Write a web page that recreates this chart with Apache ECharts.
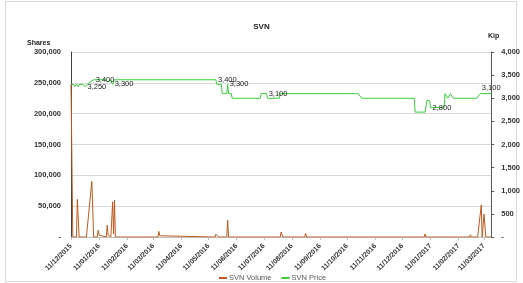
<!DOCTYPE html>
<html>
<head>
<meta charset="utf-8">
<script src="https://cdn.jsdelivr.net/npm/echarts@6/dist/echarts.min.js"></script>
<style>
  html, body { margin: 0; padding: 0; background: #ffffff; }
  #chart { width: 523px; height: 283px; }
</style>
</head>
<body>
<div id="chart"></div>
<script>
// axis span (calendar days, dd/mm/yyyy)
const startDate = '2015-12-11'
const endDate = '2017-03-19'

// SVN price (Kip) at the points where it changes
const priceDates = [
  '11/12/2015', '14/12/2015', '15/12/2015', '17/12/2015', '19/12/2015', '20/12/2015',
  '24/12/2015', '27/12/2015', '29/12/2015', '01/01/2016', '05/01/2016', '18/01/2016',
  '21/01/2016', '23/01/2016', '26/01/2016', '28/01/2016', '19/05/2016', '20/05/2016',
  '25/05/2016', '26/05/2016', '31/05/2016', '01/06/2016', '02/06/2016', '05/06/2016',
  '06/06/2016', '07/07/2016', '08/07/2016', '14/07/2016', '15/07/2016', '28/07/2016',
  '29/07/2016', '23/10/2016', '27/10/2016', '24/12/2016', '25/12/2016', '05/01/2017',
  '07/01/2017', '10/01/2017', '11/01/2017', '26/01/2017', '27/01/2017', '29/01/2017',
  '30/01/2017', '01/02/2017', '02/02/2017', '04/02/2017', '05/02/2017', '03/03/2017',
  '07/03/2017', '19/03/2017'
]
const priceValues = [
  3300, 3300, 3250, 3300, 3250, 3300,
  3300, 3250, 3300, 3350, 3400, 3400,
  3350, 3400, 3300, 3400, 3400, 3300,
  3300, 3100, 3100, 3300, 3100, 3100,
  3000, 3000, 3100, 3100, 3000, 3000,
  3100, 3100, 3000, 3000, 2700, 2700,
  2950, 2950, 2800, 2800, 3100, 3100,
  3000, 3000, 3100, 3100, 3000, 3000,
  3100, 3100
]
// points that carry a data label
const priceLabelDates = [
  '27/12/2015', '05/01/2016', '26/01/2016', '19/05/2016', '01/06/2016',
  '14/07/2016', '11/01/2017', '19/03/2017'
]

// SVN volume (shares)
const volumeDates = [
  '11/12/2015', '13/12/2015', '17/12/2015', '18/12/2015', '20/12/2015', '28/12/2015',
  '03/01/2016', '05/01/2016', '09/01/2016', '10/01/2016', '11/01/2016', '12/01/2016',
  '13/01/2016', '19/01/2016', '20/01/2016', '21/01/2016', '22/01/2016', '24/01/2016',
  '25/01/2016', '26/01/2016', '27/01/2016', '28/01/2016', '29/01/2016', '16/03/2016',
  '17/03/2016', '18/03/2016', '19/03/2016', '18/05/2016', '19/05/2016', '20/05/2016',
  '21/05/2016', '22/05/2016', '31/05/2016', '01/06/2016', '02/06/2016', '29/07/2016',
  '30/07/2016', '31/07/2016', '01/08/2016', '25/08/2016', '26/08/2016', '27/08/2016',
  '04/01/2017', '05/01/2017', '06/01/2017', '26/01/2017', '27/01/2017', '28/01/2017',
  '23/02/2017', '24/02/2017', '25/02/2017', '04/03/2017', '08/03/2017', '09/03/2017',
  '11/03/2017', '13/03/2017', '19/03/2017'
]
const volumeValues = [
  248000, 0, 0, 61000, 0, 0,
  90000, 0, 0, 11000, 3000, 6000,
  0, 0, 19000, 3000, 4000, 0,
  0, 57000, 5000, 60000, 0, 0,
  9000, 2000, 0, 0, 4500, 3000,
  4000, 0, 0, 27000, 0, 0,
  8000, 4000, 0, 0, 6000, 0,
  0, 5000, 0, 0, 2000, 0,
  0, 3500, 0, 0, 52000, 0,
  37000, 0, 0
]

const sharesTicks = { min: 0, max: 300000, interval: 50000 }
const kipTicks = { min: 0, max: 4000, interval: 500 }

// every calendar day on the axis
const pad = n => (n < 10 ? '0' + n : '' + n)
const categories = []
for (let d = new Date(startDate + 'T00:00:00Z'); d <= new Date(endDate + 'T00:00:00Z'); d.setUTCDate(d.getUTCDate() + 1)) {
  categories.push(pad(d.getUTCDate()) + '/' + pad(d.getUTCMonth() + 1) + '/' + d.getUTCFullYear())
}

const fmt = v => (v === 0 ? '-' : v.toLocaleString('en-US'))
const monthMark = (i, name) => name.slice(0, 2) === '11'
const font = 'Liberation Sans'

const chart = echarts.init(document.getElementById('chart'))
chart.setOption({
  animation: false,
  textStyle: { fontFamily: font },
  title: [
    { text: 'SVN', left: 'center', top: 18, textStyle: { fontSize: 8, fontWeight: 'bold', color: '#222' } },
    { text: 'Shares', left: 22, top: 35, textStyle: { fontSize: 7, fontWeight: 'bold', color: '#222' } },
    { text: 'Kip', left: 483, top: 28, textStyle: { fontSize: 7, fontWeight: 'bold', color: '#222' } }
  ],
  graphic: [
    { type: 'rect', shape: { x: 5.5, y: 1.5, width: 511, height: 280 }, style: { fill: 'none', stroke: '#d9d9d9', lineWidth: 1 }, silent: true }
  ],
  legend: {
    top: 269,
    left: 214,
    itemWidth: 8,
    itemHeight: 2,
    itemGap: 10,
    icon: 'rect',
    textStyle: { fontSize: 7.5, color: '#595959', padding: [0, 0, 0, -3] },
    data: ['SVN Volume', 'SVN Price']
  },
  grid: { left: 71, right: 30, top: 52, bottom: 46 },
  xAxis: {
    type: 'category',
    data: categories,
    boundaryGap: false,
    axisLine: { show: true, lineStyle: { color: '#bfbfbf' } },
    axisTick: { show: true, interval: monthMark, length: 3, lineStyle: { color: '#bfbfbf' } },
    axisLabel: { interval: monthMark, rotate: 45, margin: 8, fontSize: 7, fontWeight: 'bold', color: '#333' },
    splitLine: { show: false }
  },
  yAxis: [
    {
      type: 'value',
      ...sharesTicks,
      axisLine: { show: true, lineStyle: { color: '#404040' } },
      axisTick: { show: false },
      splitLine: { show: true, lineStyle: { color: '#d9d9d9' } },
      axisLabel: { margin: 10, fontSize: 7.5, fontWeight: 'bold', color: '#333', formatter: fmt }
    },
    {
      type: 'value',
      ...kipTicks,
      position: 'right',
      axisLine: { show: true, lineStyle: { color: '#595959' } },
      axisTick: { show: true, length: 3, lineStyle: { color: '#595959' } },
      splitLine: { show: false },
      axisLabel: { margin: 10, fontSize: 7.5, fontWeight: 'bold', color: '#333', formatter: fmt }
    }
  ],
  series: [
    {
      name: 'SVN Volume',
      type: 'line',
      yAxisIndex: 0,
      showSymbol: false,
      color: '#c0581f',
      lineStyle: { width: 1, color: '#c0581f' },
      data: volumeDates.map((d, i) => [d, volumeValues[i]])
    },
    {
      name: 'SVN Price',
      type: 'line',
      yAxisIndex: 1,
      symbol: 'circle',
      symbolSize: 0,
      showSymbol: true,
      showAllSymbol: true,
      color: '#3ad13a',
      lineStyle: { width: 1, color: '#3ad13a' },
      data: priceDates.map((d, i) => {
        const item = { value: [d, priceValues[i]] }
        if (priceLabelDates.includes(d)) {
          item.label = {
            show: true,
            position: i === priceDates.length - 1 ? 'top' : 'right',
            distance: 2,
            fontSize: 7.5,
            color: '#222',
            formatter: p => fmt(p.value[1])
          }
        }
        return item
      })
    }
  ]
})
</script>
</body>
</html>
